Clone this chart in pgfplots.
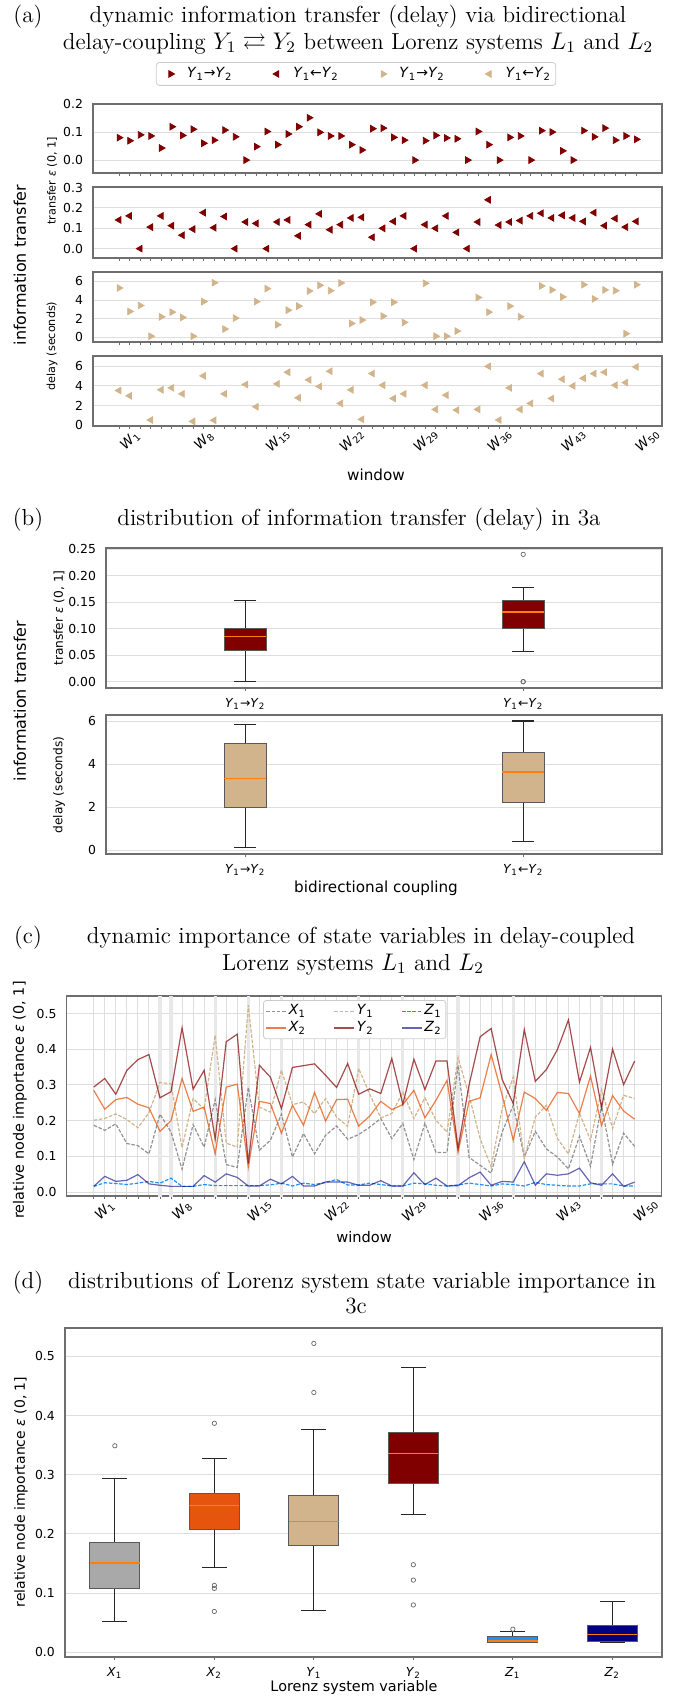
\documentclass[border=0pt]{standalone}
\usepackage{fontspec}
\usepackage{amsmath,amssymb}
\usepackage{pgfplots}
\usepackage{pgfplotstable}
\pgfplotsset{compat=1.18}
\usepgfplotslibrary{statistics}
\newfontfamily\dv{DejaVu Sans}

\definecolor{cgray}{RGB}{169,169,169}
\definecolor{cgrayline}{RGB}{128,128,128}
\definecolor{corange}{RGB}{230,85,13}
\definecolor{ctan}{RGB}{210,180,140}
\definecolor{cmaroon}{RGB}{128,0,0}
\definecolor{cblue}{RGB}{30,144,255}
\definecolor{cnavy}{RGB}{0,0,128}
\definecolor{cmed}{RGB}{255,127,14}
\definecolor{cframe}{RGB}{110,110,110}
\definecolor{cgrid}{RGB}{222,222,222}

\newcommand{\W}[1]{\textit{W}\textsubscript{#1}}
\newcommand{\Yr}{\textit{Y}\textsubscript{1}→\textit{Y}\textsubscript{2}}
\newcommand{\Yl}{\textit{Y}\textsubscript{1}←\textit{Y}\textsubscript{2}}
\newcommand{\ttl}{\fontsize{11.6}{13.6}\selectfont}
\newcommand{\tks}{\dv\fontsize{6.2}{7.2}\selectfont}
\newcommand{\lgs}{\dv\fontsize{7}{8}\selectfont}

% (a) transfer and delay per window; no delay where the transfer is 0
\pgfplotstableread{
w  t12   t21   d12  d21
1  0.080 0.141 5.29 3.54
2  0.069 0.161 2.77 3.00
3  0.090 0     3.41 nan
4  0.086 0.106 0.12 0.54
5  0.043 0.161 2.20 3.61
6  0.119 0.113 2.70 3.81
7  0.088 0.066 2.13 3.20
8  0.110 0.096 0.12 0.40
9  0.060 0.177 3.83 5.03
10 0.071 0.103 5.85 0.51
11 0.107 0.158 0.89 3.20
12 0.083 0     2.06 nan
13 0     0.131 nan  4.15
14 0.048 0.124 3.83 1.89
15 0.102 0     5.22 nan
16 0.055 0.131 1.35 4.22
17 0.093 0.141 2.91 5.40
18 0.119 0.063 3.34 2.80
19 0.151 0.118 4.97 4.62
20 0.099 0.171 5.57 3.95
21 0.086 0.093 5.00 5.50
22 0.086 0.118 5.82 2.23
23 0.055 0.151 1.49 3.61
24 0.036 0.154 1.85 0.61
25 0.112 0.056 3.76 5.26
26 0.114 0.100 2.27 4.08
27 0.081 0.134 3.76 2.73
28 0.071 0.161 1.60 3.20
29 0     0     nan  nan
30 0.069 0.118 5.79 4.08
31 0.088 0.100 0.12 1.62
32 0.079 0.161 0.12 3.07
33 0.076 0.080 0.67 1.55
34 0     0     nan  nan
35 0.102 0.131 4.26 1.62
36 0.055 0.240 2.70 6.00
37 0     0.116 nan  0.54
38 0.081 0.131 3.34 3.81
39 0.086 0.138 2.20 1.62
40 0     0.161 nan  2.23
41 0.105 0.174 5.50 5.26
42 0.100 0.151 5.08 2.73
43 0.033 0.164 4.33 4.69
44 0     0.151 nan  4.01
45 0.105 0.134 5.64 4.79
46 0.083 0.177 4.12 5.26
47 0.114 0.113 5.08 5.40
48 0.071 0.148 5.00 4.08
49 0.086 0.106 0.39 4.35
50 0.074 0.134 5.64 5.94
}\tabA

% (c) node importance of the state variables per window
\pgfplotstableread{
w  x1    x2    y1    y2    z1    z2
1  0.187 0.285 0.201 0.294 0.016 0.016
2  0.173 0.232 0.206 0.318 0.026 0.044
3  0.191 0.259 0.219 0.274 0.024 0.030
4  0.136 0.265 0.203 0.341 0.021 0.033
5  0.130 0.246 0.180 0.371 0.025 0.049
6  0.107 0.236 0.222 0.385 0.030 0.023
7  0.218 0.170 0.307 0.264 0.025 0.019
8  0.168 0.200 0.303 0.281 0.039 0.016
9  0.064 0.318 0.124 0.460 0.016 0.016
10 0.189 0.226 0.262 0.288 0.016 0.016
11 0.126 0.238 0.232 0.341 0.021 0.046
12 0.259 0.107 0.439 0.148 0.018 0.028
13 0.077 0.294 0.137 0.421 0.018 0.051
14 0.069 0.302 0.126 0.442 0.018 0.041
15 0.293 0.070 0.523 0.080 0.018 0.017
16 0.117 0.254 0.238 0.355 0.018 0.017
17 0.145 0.248 0.224 0.322 0.020 0.036
18 0.218 0.165 0.341 0.234 0.025 0.023
19 0.098 0.243 0.245 0.349 0.017 0.044
20 0.164 0.187 0.252 0.354 0.025 0.017
21 0.107 0.279 0.220 0.359 0.021 0.017
22 0.159 0.199 0.262 0.327 0.027 0.028
23 0.185 0.259 0.210 0.293 0.035 0.028
24 0.148 0.260 0.184 0.360 0.020 0.028
25 0.161 0.185 0.346 0.274 0.020 0.019
26 0.182 0.213 0.274 0.289 0.025 0.019
27 0.206 0.254 0.208 0.276 0.021 0.032
28 0.150 0.231 0.220 0.374 0.017 0.017
29 0.192 0.245 0.280 0.246 0.017 0.017
30 0.091 0.285 0.206 0.372 0.025 0.054
31 0.193 0.208 0.264 0.287 0.023 0.021
32 0.111 0.257 0.201 0.367 0.019 0.039
33 0.111 0.313 0.168 0.367 0.017 0.017
34 0.355 0.112 0.377 0.122 0.020 0.018
35 0.097 0.254 0.270 0.300 0.025 0.040
36 0.075 0.264 0.150 0.435 0.021 0.056
37 0.053 0.385 0.070 0.458 0.017 0.019
38 0.168 0.271 0.234 0.315 0.023 0.030
39 0.243 0.145 0.322 0.248 0.021 0.028
40 0.098 0.280 0.095 0.455 0.017 0.085
41 0.170 0.262 0.210 0.310 0.027 0.019
42 0.121 0.229 0.243 0.343 0.021 0.051
43 0.098 0.279 0.150 0.399 0.019 0.047
44 0.065 0.276 0.107 0.482 0.017 0.051
45 0.156 0.220 0.221 0.308 0.017 0.067
46 0.072 0.325 0.145 0.405 0.023 0.026
47 0.243 0.187 0.287 0.236 0.023 0.019
48 0.078 0.270 0.178 0.400 0.023 0.051
49 0.165 0.227 0.271 0.301 0.017 0.016
50 0.128 0.204 0.262 0.367 0.017 0.028
}\tabC

\tikzset{lab/.style={font=\dv\fontsize{#1}{#1}\selectfont}}

\pgfplotsset{
  base/.style={scale only axis, anchor=north west,
    axis line style={draw=cframe, line width=0.75pt},
    ticklabel style={font=\tks},
    /pgf/number format/assume math mode=true,
    ymajorgrids, grid style={draw=cgrid, line width=0.5pt},
    tick align=outside, major tick length=1.6pt, minor tick length=1.6pt,
    tick style={draw=cframe, line width=0.4pt},
    xtick pos=bottom, ytick pos=left,
    every major y tick/.append style={draw=none}},
  win/.style={xmin=-1.45, xmax=52.45, xtick={1,8,...,50}, minor xtick={1,...,50}},
  wlabels/.style={xticklabels={\W{1},\W{8},\W{15},\W{22},\W{29},\W{36},\W{43},\W{50}},
    xticklabel style={rotate=45, anchor=center, yshift=-8pt, font=\dv\fontsize{6.8}{7.8}\selectfont}},
  d1/.style={yticklabel style={/pgf/number format/fixed, /pgf/number format/fixed zerofill, /pgf/number format/precision=1}},
  d2/.style={yticklabel style={/pgf/number format/fixed, /pgf/number format/fixed zerofill, /pgf/number format/precision=2}},
  tri/.style={only marks, mark=triangle*, mark size=1.9pt},
  bx/.style={boxplot/draw direction=y,
    boxplot/every median/.style={draw=cmed, line width=0.9pt},
    boxplot/every whisker/.style={draw=black!85, line width=0.55pt},
    draw=black!65, line width=0.5pt, mark=o, mark size=1.1pt,
    mark options={draw=black!60, line width=0.35pt, fill=none}},
}

\begin{document}
\begin{tikzpicture}
\path[use as bounding box] (0,0) rectangle (340pt,-848.5pt);

% ---------------- titles and labels
\node[anchor=base, font=\ttl] at (14pt,-11.5pt) {(a)};
\node[anchor=base, font=\ttl] at (179pt,-11.5pt) {dynamic information transfer (delay) via bidirectional};
\node[anchor=base, font=\ttl] at (179pt,-24.5pt) {delay-coupling $Y_1 \rightleftarrows Y_2$ between Lorenz systems $L_1$ and $L_2$};
\node[rotate=90, lab=8] at (10pt,-132.5pt) {information transfer};
\node[rotate=90, lab=5.6] at (26pt,-90.5pt) {transfer \textit{ε} (0, 1]};
\node[rotate=90, lab=5.6] at (26pt,-173pt) {delay (seconds)};
\node[lab=7.6] at (188pt,-237.5pt) {window};

\node[anchor=base, font=\ttl] at (14pt,-262.5pt) {(b)};
\node[anchor=base, font=\ttl] at (179.5pt,-262.5pt) {distribution of information transfer (delay) in 3a};
\node[rotate=90, lab=8] at (10pt,-350.5pt) {information transfer};
\node[rotate=90, lab=6.1] at (29.5pt,-309pt) {transfer \textit{ε} (0, 1]};
\node[rotate=90, lab=6.1] at (29.5pt,-392.5pt) {delay (seconds)};
\node[lab=7.6] at (188pt,-444pt) {bidirectional coupling};

\node[anchor=base, font=\ttl] at (14pt,-471.5pt) {(c)};
\node[anchor=base, font=\ttl] at (180.5pt,-471.5pt) {dynamic importance of state variables in delay-coupled};
\node[anchor=base, font=\ttl] at (176.5pt,-485pt) {Lorenz systems $L_1$ and $L_2$};
\node[rotate=90, lab=7.2] at (10pt,-550pt) {relative node importance \textit{ε} (0, 1]};
\node[lab=7.3] at (182pt,-618.5pt) {window};

\node[anchor=base, font=\ttl] at (14pt,-644pt) {(d)};
\node[anchor=base, font=\ttl] at (181pt,-644pt) {distributions of Lorenz system state variable importance in};
\node[anchor=base, font=\ttl] at (178pt,-656.5pt) {3c};
\node[rotate=90, lab=7] at (10.5pt,-746pt) {relative node importance \textit{ε} (0, 1]};
\node[lab=7.2] at (177pt,-844pt) {Lorenz system variable};

% ---------------- (a)
\begin{axis}[base, win, d1, at={(46.6pt,-52pt)}, width=284.5pt, height=34.5pt,
  ymin=-0.046, ymax=0.2, ytick={0,0.1,0.2}, xticklabels={},
  legend columns=4, legend cell align=left,
  legend image code/.code={\path[draw=none, fill=none] (-3pt,0pt) -- (10pt,0pt);
    \path[#1, draw=none] plot[only marks] coordinates {(3pt,0pt)};},
  legend style={at={(0.462,1.435)}, anchor=center, font=\lgs, draw=gray!40, rounded corners=1.5pt,
    inner sep=1.2pt, nodes={inner sep=1.2pt},
    /tikz/every even column/.append style={column sep=15pt}}]
\addplot[tri, cmaroon, mark options={rotate=-90}] table[x=w, y=t12] {\tabA};
\addlegendentry{\Yr}
\addlegendimage{tri, cmaroon, mark options={rotate=90}}
\addlegendentry{\Yl}
\addlegendimage{tri, ctan, mark options={rotate=-90}}
\addlegendentry{\Yr}
\addlegendimage{tri, ctan, mark options={rotate=90}}
\addlegendentry{\Yl}
\end{axis}

\begin{axis}[base, win, d1, at={(46.6pt,-93.5pt)}, width=284.5pt, height=35.5pt,
  ymin=-0.046, ymax=0.303, ytick={0,0.1,0.2,0.3}, xticklabels={}]
\addplot[tri, cmaroon, mark options={rotate=90}] table[x=w, y=t21] {\tabA};
\end{axis}

\begin{axis}[base, win, at={(46.6pt,-136pt)}, width=284.5pt, height=35pt,
  ymin=-0.5, ymax=7, ytick={0,2,4,6}, xticklabels={}]
\addplot[tri, ctan, mark options={rotate=-90}] table[x=w, y=d12] {\tabA};
\end{axis}

\begin{axis}[base, win, wlabels, at={(46.6pt,-178pt)}, width=284.5pt, height=35pt,
  ymin=-0.07, ymax=7.05, ytick={0,2,4,6}]
\addplot[tri, ctan, mark options={rotate=90}] table[x=w, y=d21] {\tabA};
\end{axis}

% ---------------- (b)
\begin{axis}[base, d2, at={(53.1pt,-274pt)}, width=278pt, height=70pt,
  xmin=0.5, xmax=2.5, ymin=-0.012, ymax=0.252, ytick={0,0.05,...,0.25},
  xtick={1,2}, xticklabels={\Yr,\Yl},
  boxplot/box extend=0.15, boxplot/whisker extend=0.08]
\addplot[bx, fill=cmaroon, boxplot prepared={lower whisker=0, lower quartile=0.058,
  median=0.085, upper quartile=0.0995, upper whisker=0.153, draw position=1}] coordinates {};
\addplot[bx, fill=cmaroon, boxplot prepared={lower whisker=0.056, lower quartile=0.1007,
  median=0.1316, upper quartile=0.1537, upper whisker=0.178, draw position=2}]
  table[row sep=\\, y index=0] {y\\ 0.240\\ 0\\ 0\\};
\end{axis}

\begin{axis}[base, at={(53.1pt,-357.5pt)}, width=278pt, height=69.5pt,
  xmin=0.5, xmax=2.5, ymin=-0.17, ymax=6.28, ytick={0,2,4,6},
  xtick={1,2}, xticklabels={\Yr,\Yl},
  boxplot/box extend=0.15, boxplot/whisker extend=0.08]
\addplot[bx, fill=ctan, boxplot prepared={lower whisker=0.12, lower quartile=1.99,
  median=3.33, upper quartile=4.98, upper whisker=5.85, draw position=1}] coordinates {};
\addplot[bx, fill=ctan, boxplot prepared={lower whisker=0.40, lower quartile=2.22,
  median=3.63, upper quartile=4.54, upper whisker=6.0, draw position=2}] coordinates {};
\end{axis}

% ---------------- (c)
\begin{axis}[base, win, wlabels, d1, at={(33.35pt,-498pt)}, width=297.5pt, height=100pt,
  ymin=-0.011, ymax=0.549, ytick={0,0.1,...,0.5},
  xmajorgrids, xminorgrids,
  legend columns=3, legend cell align=left,
  legend image code/.code={\draw[#1] (0pt,0pt) -- (10pt,0pt);},
  legend style={at={(0.33,0.98)}, anchor=north west, font=\lgs, draw=gray!40, rounded corners=1.5pt,
    fill=white, inner sep=1.2pt, nodes={inner sep=0.9pt},
    /tikz/every even column/.append style={column sep=13pt}},
  every axis plot/.append style={line width=0.6pt, no markers}]
\addplot[ycomb, draw=gray!18, line width=1.6pt, forget plot] coordinates
  {(7,0.6) (8,0.6) (12,0.6) (15,0.6) (18,0.6) (25,0.6) (29,0.6) (34,0.6) (39,0.6) (47,0.6)};
\addplot[ycomb, draw=gray!18, line width=1.6pt, forget plot] coordinates
  {(7,-0.05) (8,-0.05) (12,-0.05) (15,-0.05) (18,-0.05) (25,-0.05) (29,-0.05) (34,-0.05) (39,-0.05) (47,-0.05)};
\addplot[cgrayline, dash pattern=on 1.8pt off 0.8pt, opacity=0.85] table[x=w, y=x1] {\tabC};
\addlegendentry{\textit{X}\textsubscript{1}}
\addplot[ctan, dash pattern=on 1.8pt off 0.8pt] table[x=w, y=y1] {\tabC};
\addlegendentry{\textit{Y}\textsubscript{1}}
\addplot[cblue, dash pattern=on 1.8pt off 0.8pt] table[x=w, y=z1] {\tabC};
\addlegendentry{\textit{Z}\textsubscript{1}}
\addplot[corange, opacity=0.75] table[x=w, y=x2] {\tabC};
\addlegendentry{\textit{X}\textsubscript{2}}
\addplot[cmaroon, opacity=0.7] table[x=w, y=y2] {\tabC};
\addlegendentry{\textit{Y}\textsubscript{2}}
\addplot[cnavy, opacity=0.6] table[x=w, y=z2] {\tabC};
\addlegendentry{\textit{Z}\textsubscript{2}}
\end{axis}

% ---------------- (d)
\begin{axis}[base, d1, at={(32.55pt,-664pt)}, width=298.5pt, height=164.5pt,
  xmin=0.5, xmax=6.5, ymin=-0.008, ymax=0.548, ytick={0,0.1,...,0.5},
  xtick={1,...,6},
  xticklabels={\textit{X}\textsubscript{1},\textit{X}\textsubscript{2},\textit{Y}\textsubscript{1},\textit{Y}\textsubscript{2},\textit{Z}\textsubscript{1},\textit{Z}\textsubscript{2}},
  boxplot/box extend=0.5, boxplot/whisker extend=0.25]
\addplot[bx, fill=cgray, boxplot prepared={lower whisker=0.052, lower quartile=0.108,
  median=0.151, upper quartile=0.186, upper whisker=0.294, draw position=1}]
  table[row sep=\\, y index=0] {y\\ 0.349\\};
\addplot[bx, fill=corange, boxplot prepared={lower whisker=0.144, lower quartile=0.208,
  median=0.248, upper quartile=0.269, upper whisker=0.328, draw position=2}]
  table[row sep=\\, y index=0] {y\\ 0.387\\ 0.113\\ 0.108\\ 0.069\\};
\addplot[bx, fill=ctan, boxplot prepared={lower whisker=0.070, lower quartile=0.181,
  median=0.221, upper quartile=0.265, upper whisker=0.377, draw position=3}]
  table[row sep=\\, y index=0] {y\\ 0.439\\ 0.522\\};
\addplot[bx, fill=cmaroon, boxplot prepared={lower whisker=0.233, lower quartile=0.286,
  median=0.336, upper quartile=0.371, upper whisker=0.482, draw position=4}]
  table[row sep=\\, y index=0] {y\\ 0.148\\ 0.122\\ 0.080\\};
\addplot[bx, fill=cblue, boxplot prepared={lower whisker=0.017, lower quartile=0.017,
  median=0.0195, upper quartile=0.026, upper whisker=0.035, draw position=5}]
  table[row sep=\\, y index=0] {y\\ 0.039\\};
\addplot[bx, fill=cnavy, boxplot prepared={lower whisker=0.017, lower quartile=0.018,
  median=0.030, upper quartile=0.045, upper whisker=0.086, draw position=6}] coordinates {};
\end{axis}
\end{tikzpicture}
\end{document}
